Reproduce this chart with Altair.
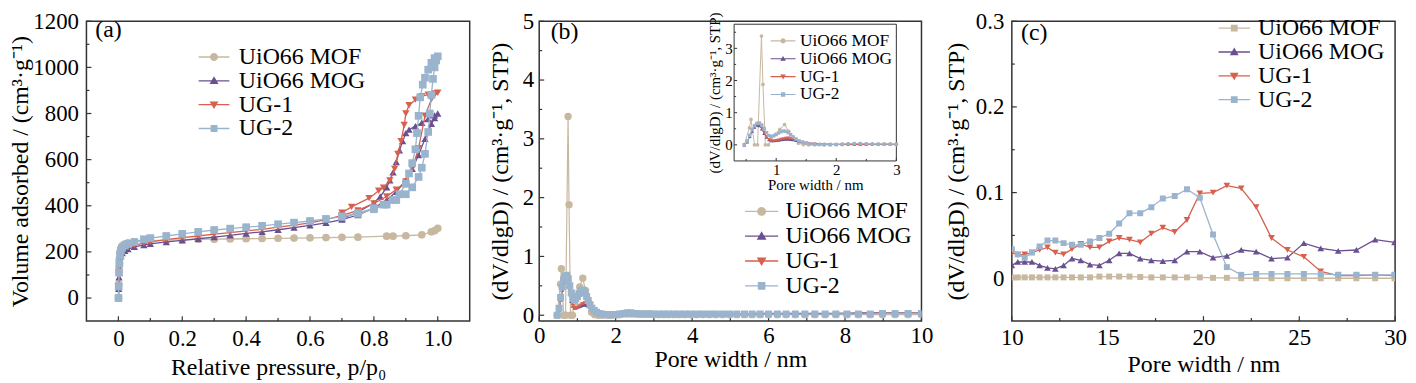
import altair as alt
import pandas as pd

FONT = "Liberation Serif"
INK = "#333333"
SERIES = ["UiO66 MOF", "UiO66 MOG", "UG-1", "UG-2"]
COLORS = ["#C8B8A0", "#6A5091", "#D7604E", "#9BB4CD"]

# ---------------- (a) N2 isotherms ----------------
MOF_A_P = [0.0003, 0.001, 0.002, 0.003, 0.005, 0.008, 0.012, 0.02, 0.03, 0.05,
           0.08, 0.1, 0.15, 0.2, 0.25, 0.3, 0.35, 0.4, 0.45, 0.5,
           0.55, 0.6, 0.65, 0.7, 0.75, 0.84, 0.86, 0.9, 0.95, 0.98, 0.99, 1.0]
MOF_A_V = [0, 60, 130, 170, 200, 217, 226, 234, 239, 244,
           247, 249, 251, 253, 254, 255, 256, 257, 258, 259,
           260, 261, 262, 263, 264, 268, 268, 270, 274, 287, 292, 302]

ADS_P = [0.0003, 0.001, 0.002, 0.003, 0.005, 0.008, 0.012, 0.02, 0.03, 0.05,
         0.08, 0.1, 0.15, 0.2, 0.25, 0.3, 0.35, 0.4, 0.45, 0.5,
         0.55, 0.6, 0.65, 0.7, 0.75, 0.8, 0.84, 0.87, 0.9, 0.92,
         0.94, 0.96, 0.98, 0.99, 1.0]
MOG_A_V = [0, 40, 90, 125, 160, 182, 195, 205, 212, 222,
           230, 235, 243, 250, 257, 264, 272, 280, 287, 296,
           305, 315, 326, 340, 360, 390, 425, 460, 510, 560,
           620, 690, 755, 780, 800]
MOG_D_P = [0.99, 0.97, 0.95, 0.93, 0.91, 0.9, 0.89, 0.88, 0.87, 0.86, 0.85, 0.84, 0.82, 0.8, 0.75, 0.7]
MOG_D_V = [792, 776, 760, 745, 730, 715, 680, 640, 590, 545, 510, 480, 440, 412, 372, 345]

UG1_A_V = [0, 45, 100, 135, 170, 192, 204, 213, 220, 229,
           238, 243, 253, 262, 269, 277, 284, 291, 298, 307,
           316, 326, 340, 358, 380, 410, 440, 470, 505, 560,
           650, 790, 862, 880, 890]
UG1_D_P = [0.99, 0.97, 0.95, 0.93, 0.91, 0.9, 0.895, 0.885, 0.875, 0.865, 0.85, 0.83, 0.815, 0.785, 0.73, 0.7]
UG1_D_V = [887, 882, 875, 860, 836, 800, 750, 680, 625, 560, 510, 478, 465, 433, 395, 370]

UG2_A_P = [0.0003, 0.001, 0.002, 0.003, 0.005, 0.008, 0.012, 0.02, 0.03, 0.05,
           0.08, 0.1, 0.15, 0.2, 0.25, 0.3, 0.35, 0.4, 0.45, 0.5,
           0.55, 0.6, 0.65, 0.7, 0.75, 0.8, 0.84, 0.87, 0.9, 0.92,
           0.94, 0.95, 0.96, 0.97, 0.975, 0.98, 0.985, 0.99, 0.995, 1.0]
UG2_A_V = [0, 50, 110, 150, 185, 205, 218, 228, 235, 243,
           255, 260, 269, 278, 287, 295, 301, 307, 313, 320,
           327, 334, 343, 352, 365, 385, 405, 425, 450, 480,
           525, 565, 625, 720, 800, 880, 950, 1000, 1030, 1048]
UG2_D_P = [0.99, 0.98, 0.97, 0.96, 0.953, 0.945, 0.94, 0.935, 0.93, 0.92, 0.91, 0.9, 0.88, 0.86, 0.83, 0.8, 0.75, 0.7]
UG2_D_V = [1040, 1020, 990, 955, 925, 870, 790, 715, 645, 585, 540, 495, 450, 425, 405, 390, 368, 354]

# ---------------- (b) pore size distribution 0-10 nm ----------------
B_W_LOW = [0.47, 0.52, 0.56, 0.60, 0.64, 0.68, 0.72, 0.76, 0.80, 0.84,
           0.88, 0.92, 0.96, 1.00, 1.04, 1.08, 1.12, 1.16, 1.20, 1.24,
           1.28, 1.33, 1.38, 1.44, 1.50, 1.57, 1.64, 1.72]
B_W_TAIL = [1.80, 1.90, 2.00, 2.10, 2.20, 2.30, 2.40, 2.50, 2.60,
            2.70, 2.80, 2.90, 3.00, 3.12, 3.25, 3.38, 3.52, 3.66,
            3.81, 3.96, 4.12, 4.28, 4.45, 4.62, 4.80, 4.98, 5.17,
            5.37, 5.57, 5.78, 6.00, 6.23, 6.46, 6.70, 6.95, 7.21,
            7.48, 7.76, 8.05, 8.35, 8.66, 8.98, 9.31, 9.65, 10.00]
MOF_B_W_LOW = [0.47, 0.555, 0.58, 0.64, 0.69, 0.755, 0.78, 0.82, 0.87, 0.92,
               0.99, 1.06, 1.14, 1.21, 1.29, 1.37, 1.45, 1.54, 1.64]
MOF_B_LOW = [0, 0.53, 0.79, 0, 0, 3.38, 1.88, 0, 0, 0.22,
             0.33, 0.48, 0.63, 0.42, 0.22, 0.05, 0.01, 0, 0]
MOF_B_TAIL = [0, 0, 0.01, 0.01, 0.02, 0.02, 0.02, 0.02, 0.02,
              0.02, 0.02, 0.02, 0.01, 0.01, 0.01, 0.01, 0.01, 0.01,
              0.01, 0.01, 0.01, 0.01, 0.01, 0.01, 0.01, 0.01, 0.01,
              0.01, 0.01, 0.01, 0.01, 0.01, 0.01, 0.01, 0.01, 0.01,
              0.01, 0.01, 0.01, 0.01, 0.01, 0.01, 0.01, 0.01, 0.01]
MOG_B_LOW = [0, 0.09, 0.26, 0.43, 0.55, 0.61, 0.60, 0.50, 0.36, 0.24,
             0.16, 0.13, 0.13, 0.14, 0.15, 0.16, 0.17, 0.18, 0.18, 0.17,
             0.16, 0.14, 0.11, 0.09, 0.07, 0.05, 0.04, 0.03]
MOG_B_TAIL = [0.03, 0.02, 0.02, 0.02, 0.02, 0.02, 0.02, 0.02, 0.02,
              0.02, 0.02, 0.02, 0.02, 0.02, 0.02, 0.02, 0.02, 0.02,
              0.02, 0.02, 0.02, 0.02, 0.02, 0.02, 0.02, 0.02, 0.02,
              0.02, 0.03, 0.03, 0.03, 0.03, 0.03, 0.03, 0.03, 0.03,
              0.03, 0.03, 0.03, 0.04, 0.04, 0.04, 0.04, 0.04, 0.04]
UG1_B_LOW = [0, 0.10, 0.28, 0.45, 0.57, 0.63, 0.62, 0.52, 0.38, 0.25,
             0.16, 0.12, 0.12, 0.13, 0.15, 0.17, 0.19, 0.20, 0.21, 0.20,
             0.18, 0.15, 0.11, 0.08, 0.05, 0.03, 0.02, 0.01]
UG1_B_TAIL = [0.01, 0.01, 0.01, 0.01, 0.01, 0.01, 0.01, 0.01, 0.01,
              0.01, 0.01, 0.01, 0.01, 0.01, 0.01, 0.01, 0.01, 0.01,
              0.01, 0.01, 0.01, 0.01, 0.01, 0.01, 0.02, 0.02, 0.02,
              0.02, 0.02, 0.02, 0.02, 0.02, 0.02, 0.02, 0.02, 0.02,
              0.02, 0.03, 0.03, 0.03, 0.03, 0.03, 0.03, 0.03, 0.03]
UG2_B_LOW = [0, 0.12, 0.30, 0.48, 0.60, 0.67, 0.68, 0.62, 0.50, 0.38,
             0.29, 0.26, 0.28, 0.32, 0.37, 0.41, 0.43, 0.42, 0.38, 0.32,
             0.25, 0.18, 0.12, 0.08, 0.05, 0.03, 0.02, 0.01]
UG2_B_TAIL = [0.01, 0.01, 0.01, 0.02, 0.03, 0.04, 0.04, 0.03, 0.02,
              0.02, 0.02, 0.02, 0.02, 0.02, 0.02, 0.02, 0.02, 0.02,
              0.02, 0.02, 0.02, 0.02, 0.02, 0.02, 0.02, 0.02, 0.02,
              0.02, 0.02, 0.02, 0.02, 0.02, 0.02, 0.02, 0.02, 0.02,
              0.02, 0.02, 0.02, 0.02, 0.02, 0.03, 0.03, 0.03, 0.03]

# ---------------- (c) pore size distribution 10-30 nm ----------------
C_W = [10.00, 10.31, 10.67, 11.05, 11.45, 11.86, 12.27, 12.70, 13.14, 13.60,
       14.08, 14.57, 15.08, 15.60, 16.14, 16.70, 17.28, 17.88, 18.50, 19.14,
       19.81, 20.50, 21.22, 21.97, 22.75, 23.55, 24.38, 25.24, 26.12, 27.03,
       27.98, 28.96, 29.97]
MOF_C = [0.001, 0.001, 0.001, 0.001, 0.001, 0.001, 0.001, 0.001, 0.001, 0.001,
         0.001, 0.002, 0.002, 0.002, 0.002, 0.0015, 0.001, 0.001, 0.001, 0.001,
         0.001, 0.0005, 0.0005, 0.0, 0.0, 0.0, 0.0, 0.0, 0.0, 0.0,
         0.0, 0.0, 0.0]
MOG_C = [0.015, 0.019, 0.019, 0.019, 0.015, 0.012, 0.011, 0.015, 0.023, 0.021,
         0.016, 0.015, 0.021, 0.029, 0.029, 0.023, 0.021, 0.020, 0.021, 0.031,
         0.031, 0.024, 0.026, 0.033, 0.031, 0.023, 0.024, 0.041, 0.035, 0.032,
         0.033, 0.045, 0.042]
UG1_C = [0.030, 0.027, 0.028, 0.030, 0.033, 0.036, 0.030, 0.028, 0.034, 0.040,
         0.036, 0.036, 0.043, 0.047, 0.045, 0.042, 0.052, 0.059, 0.054, 0.068,
         0.099, 0.100, 0.108, 0.105, 0.083, 0.047, 0.033, 0.025, 0.008, 0.003,
         0.003, 0.004, 0.003]
UG2_C = [0.034, 0.028, 0.024, 0.030, 0.037, 0.044, 0.044, 0.041, 0.039, 0.039,
         0.043, 0.047, 0.052, 0.064, 0.076, 0.076, 0.083, 0.093, 0.096, 0.104,
         0.094, 0.051, 0.013, 0.004, 0.005, 0.005, 0.005, 0.005, 0.005, 0.004,
         0.004, 0.004, 0.004]

# ---------------- axes / domains ----------------
A_XDOM, A_YDOM = [-0.1, 1.1], [-100, 1200]
B_XDOM, B_YDOM = [0, 10], [-0.1, 5]
C_XDOM, C_YDOM = [10, 30], [-0.05, 0.3]
I_XDOM, I_YDOM = [0.3, 3.0], [-0.5, 3.75]

A_XT = [0, 0.2, 0.4, 0.6, 0.8, 1.0]
A_XM = [0.1, 0.3, 0.5, 0.7, 0.9]
A_YT = [0, 200, 400, 600, 800, 1000, 1200]
A_YM = [100, 300, 500, 700, 900, 1100]
B_XT = [0, 2, 4, 6, 8, 10]
B_XM = [1, 3, 5, 7, 9]
B_YT = [0, 1, 2, 3, 4, 5]
B_YM = [0.5, 1.5, 2.5, 3.5, 4.5]
C_XT = [10, 15, 20, 25, 30]
C_XM = [12.5, 17.5, 22.5, 27.5]
C_YT = [0, 0.1, 0.2, 0.3]
C_YM = [0.05, 0.15, 0.25]
I_XT = [1, 2, 3]
I_XM = [0.5, 1.5, 2.5]
I_YT = [0, 1, 2, 3]
I_YM = [0.5, 1.5, 2.5, 3.5]

# layout (pixels)
TOP = 21          # absolute y of the plot areas' top edge
H = 302
W_A, W_B, W_C = 386, 385, 386
GAP_AB, GAP_BC = 70, 91
ZERO_EXPR = "datum.value == 0 ? '0' : format(datum.value, '.1f')"
YLAB_B = "(dV/dlgD) / (cm³·g⁻¹, STP)"


def frame(parts):
    rows = []
    for s, xs, ys in parts:
        for i, (x, y) in enumerate(zip(xs, ys)):
            rows.append({"s": s, "x": x, "y": y, "i": i})
    return pd.DataFrame(rows)


def scale(dom, rng=None):
    if rng is None:
        return alt.Scale(domain=dom, nice=False, zero=False)
    return alt.Scale(domain=dom, range=rng, nice=False, zero=False)


def axis(values, title, lpad, tpad, fs=23, tfs=24, fmt=None, expr=None, orient=None, offset=None):
    kw = dict(values=values, title=title, labelPadding=lpad, titlePadding=tpad,
              labelFontSize=fs, titleFontSize=tfs, labelFlush=False, labelOverlap=False,
              domain=False, ticks=False, grid=False)
    if fmt is not None:
        kw["format"] = fmt
    if expr is not None:
        kw["labelExpr"] = expr
    if orient is not None:
        kw["orient"] = orient
    if offset is not None:
        kw["offset"] = offset
    return alt.Axis(**kw)


def data_layers(df, xs, ys, xax, yax, shapes, sizes, width, clip, xmax=None):
    xenc = alt.X("x:Q", scale=xs, axis=xax)
    yenc = alt.Y("y:Q", scale=ys, axis=yax)
    out = []
    for s, c, sh, sz in zip(SERIES, COLORS, shapes, sizes):
        base = alt.Chart(df).transform_filter(alt.datum.s == s)
        if xmax is not None:
            base = base.transform_filter(alt.datum.x <= xmax)
        out.append(base.mark_line(color=c, strokeWidth=width, clip=clip)
                   .encode(x=xenc, y=yenc, order="i:Q"))
        out.append(base.mark_point(shape=sh, filled=True, color=c, size=sz, opacity=1,
                                   strokeWidth=0, clip=clip)
                   .encode(x=xenc, y=yenc))
    return out


def tick_layers(xs, ys, xax, yax, xdom, ydom, xt, xm, yt, ym, lmaj, lmin, sw=1.2):
    out = []
    for vals, L in ((xt, lmaj), (xm, lmin)):
        out.append(alt.Chart(pd.DataFrame({"t": vals}))
                   .mark_rule(color=INK, strokeWidth=sw, y2Offset=-L)
                   .encode(x=alt.X("t:Q", scale=xs, axis=xax),
                           y=alt.YDatum(ydom[0], scale=ys, axis=yax),
                           y2=alt.Y2Datum(ydom[0])))
    for vals, L in ((yt, lmaj), (ym, lmin)):
        out.append(alt.Chart(pd.DataFrame({"t": vals}))
                   .mark_rule(color=INK, strokeWidth=sw, x2Offset=L)
                   .encode(y=alt.Y("t:Q", scale=ys, axis=yax),
                           x=alt.XDatum(xdom[0], scale=xs, axis=xax),
                           x2=alt.X2Datum(xdom[0])))
    return out


def r3(v):
    return f"{v:.3f}".rstrip("0").rstrip(".")


def legend_paths(L, m, t, mof_square=False):
    line = f"M{r3(-L)},{r3(-t)}H{r3(L)}V{r3(t)}H{r3(-L)}Z"
    circle = f"M{r3(m)},0A{r3(m)},{r3(m)},0,1,1,{r3(-m)},0A{r3(m)},{r3(m)},0,1,1,{r3(m)},0Z"
    a = 0.85 * m
    square = f"M{r3(-a)},{r3(-a)}H{r3(a)}V{r3(a)}H{r3(-a)}Z"
    k = 1.1 * m
    up = f"M0,{r3(-k)}L{r3(k)},{r3(0.8 * m)}L{r3(-k)},{r3(0.8 * m)}Z"
    down = f"M0,{r3(k)}L{r3(-k)},{r3(-0.8 * m)}L{r3(k)},{r3(-0.8 * m)}Z"
    return [line + (square if mof_square else circle), line + up, line + down, line + square]


def legend_layer(paths, lx, ly, fs, ssize, loff):
    leg = alt.Legend(orient="none", legendX=lx, legendY=ly, title=None, direction="vertical",
                     labelFont=FONT, labelFontSize=fs, labelColor="black", labelLimit=400,
                     symbolSize=ssize, symbolStrokeWidth=0, symbolOpacity=1,
                     rowPadding=0, labelOffset=loff, padding=0, offset=0)
    return (alt.Chart(pd.DataFrame({"s": SERIES}))
            .mark_point(filled=True, opacity=0)
            .encode(color=alt.Color("s:N", scale=alt.Scale(domain=SERIES, range=COLORS),
                                    legend=leg, sort=SERIES),
                    shape=alt.Shape("s:N", scale=alt.Scale(domain=SERIES, range=paths),
                                    legend=leg, sort=SERIES)))


def panel_label(text, px, py):
    return (alt.Chart(pd.DataFrame({"t": [text]}))
            .mark_text(font=FONT, fontSize=24, color="black", align="center", baseline="middle")
            .encode(text="t:N", x=alt.value(px), y=alt.value(py)))


def spacer(w):
    return (alt.Chart(pd.DataFrame({"s": [0]})).mark_point(opacity=0)
            .properties(width=w, height=H, view=alt.ViewBackground(stroke="transparent")))


# ---------------- panel (a) ----------------
df_a = frame([
    ("UiO66 MOF", MOF_A_P, MOF_A_V),
    ("UiO66 MOG", ADS_P + MOG_D_P, MOG_A_V + MOG_D_V),
    ("UG-1", ADS_P + UG1_D_P, UG1_A_V + UG1_D_V),
    ("UG-2", UG2_A_P + UG2_D_P, UG2_A_V + UG2_D_V),
])
xs_a, ys_a = scale(A_XDOM), scale(A_YDOM)
xax_a = axis(A_XT, "Relative pressure, p/p₀", 7, 5, expr=ZERO_EXPR)
yax_a = axis(A_YT, "Volume adsorbed / (cm³·g⁻¹)", 8, 0, fmt="d")
panel_a = alt.layer(
    *tick_layers(xs_a, ys_a, xax_a, yax_a, A_XDOM, A_YDOM, A_XT, A_XM, A_YT, A_YM, 5, 3),
    *data_layers(df_a, xs_a, ys_a, xax_a, yax_a, ["circle", "triangle-up", "triangle-down", "square"],
                 [60, 55, 55, 60], 1.3, False),
    legend_layer(legend_paths(1.29, 0.34, 0.055), 116.5, 45 - TOP, 24, 576, 13),
    panel_label("(a)", 22.3, 30 - TOP),
).properties(width=W_A, height=H)

# ---------------- panel (b) ----------------
df_b = frame([
    ("UiO66 MOF", MOF_B_W_LOW + B_W_TAIL, MOF_B_LOW + MOF_B_TAIL),
    ("UiO66 MOG", B_W_LOW + B_W_TAIL, MOG_B_LOW + MOG_B_TAIL),
    ("UG-1", B_W_LOW + B_W_TAIL, UG1_B_LOW + UG1_B_TAIL),
    ("UG-2", B_W_LOW + B_W_TAIL, UG2_B_LOW + UG2_B_TAIL),
])
xs_b, ys_b = scale(B_XDOM), scale(B_YDOM)
xax_b = axis(B_XT, "Pore width / nm", 4, 0, fmt="d")
yax_b = axis(B_YT, YLAB_B, 5.5, 10, fmt="d")
main_b = alt.layer(
    *tick_layers(xs_b, ys_b, xax_b, yax_b, B_XDOM, B_YDOM, B_XT, B_XM, B_YT, B_YM, 5, 3),
    *data_layers(df_b, xs_b, ys_b, xax_b, yax_b, ["circle", "triangle-up", "triangle-down", "square"],
                 [55, 18, 18, 50], 1.2, True),
    legend_layer(legend_paths(1.375, 0.37, 0.055), 211.5, 200 - TOP, 24, 590, 11.5),
    panel_label("(b)", 25.5, 32 - TOP),
)

INSET_TOP = 3
IX_RANGE = [196.3, 359.7]
IY_RANGE = [161.7 - TOP, INSET_TOP]
xs_i, ys_i = scale(I_XDOM, IX_RANGE), scale(I_YDOM, IY_RANGE)
xax_i = axis(I_XT, "Pore width / nm", 2, 0, fs=15, tfs=15, fmt="d",
             orient="bottom", offset=-(H - IY_RANGE[0]))
yax_i = axis(I_YT, YLAB_B, 2, 2, fs=15, tfs=15, fmt="d", orient="left", offset=-IX_RANGE[0])
inset_box = (alt.Chart(pd.DataFrame({"x0": [I_XDOM[0]], "x1": [I_XDOM[1]],
                                     "y0": [I_YDOM[0]], "y1": [I_YDOM[1]]}))
             .mark_rect(fill="white", stroke=INK, strokeWidth=1)
             .encode(x=alt.X("x0:Q", scale=xs_i, axis=xax_i), x2="x1:Q",
                     y=alt.Y("y0:Q", scale=ys_i, axis=yax_i), y2="y1:Q"))
inset_b = alt.layer(
    inset_box,
    *tick_layers(xs_i, ys_i, xax_i, yax_i, I_XDOM, I_YDOM, I_XT, I_XM, I_YT, I_YM, 3, 2, sw=1),
    *data_layers(df_b, xs_i, ys_i, xax_i, yax_i, ["circle", "triangle-up", "triangle-down", "square"],
                 [14, 14, 14, 12], 1.0, False, xmax=I_XDOM[1]),
    legend_layer(legend_paths(1.42, 0.29, 0.06), 236.6, INSET_TOP + 7.8, 17.5, 313, 8),
)
panel_b = (alt.layer(main_b, inset_b)
           .resolve_scale(x="independent", y="independent", color="independent", shape="independent")
           .resolve_legend(color="independent", shape="independent")
           .properties(width=W_B, height=H))

# ---------------- panel (c) ----------------
df_c = frame([
    ("UiO66 MOF", C_W, MOF_C),
    ("UiO66 MOG", C_W, MOG_C),
    ("UG-1", C_W, UG1_C),
    ("UG-2", C_W, UG2_C),
])
xs_c, ys_c = scale(C_XDOM), scale(C_YDOM)
xax_c = axis(C_XT, "Pore width / nm", 5.5, 3, fmt="d")
yax_c = axis(C_YT, YLAB_B, 8, 7, expr=ZERO_EXPR)
panel_c = alt.layer(
    *tick_layers(xs_c, ys_c, xax_c, yax_c, C_XDOM, C_YDOM, C_XT, C_XM, C_YT, C_YM, 5, 3),
    *data_layers(df_c, xs_c, ys_c, xax_c, yax_c, ["square", "triangle-up", "triangle-down", "square"],
                 [36, 45, 45, 36], 1.3, True),
    legend_layer(legend_paths(1.33, 0.34, 0.055, mof_square=True), 212, 16 - TOP, 24, 566, 12),
    panel_label("(c)", 22.5, 33 - TOP),
).properties(width=W_C, height=H)

chart = (alt.hconcat(panel_a, spacer(GAP_AB), panel_b, spacer(GAP_BC), panel_c,
                     spacing=0, bounds="flush")
         .resolve_scale(color="independent", shape="independent")
         .resolve_legend(color="independent", shape="independent")
         .properties(padding={"left": 0, "top": 0, "right": 0, "bottom": 0})
         .configure(font=FONT)
         .configure_view(stroke=INK, strokeWidth=1.5)
         .configure_axis(labelFont=FONT, titleFont=FONT, labelColor="black",
                         titleColor="black", titleFontWeight="normal"))

chart.save("out.html", embed_options={"renderer": "svg", "actions": False})
